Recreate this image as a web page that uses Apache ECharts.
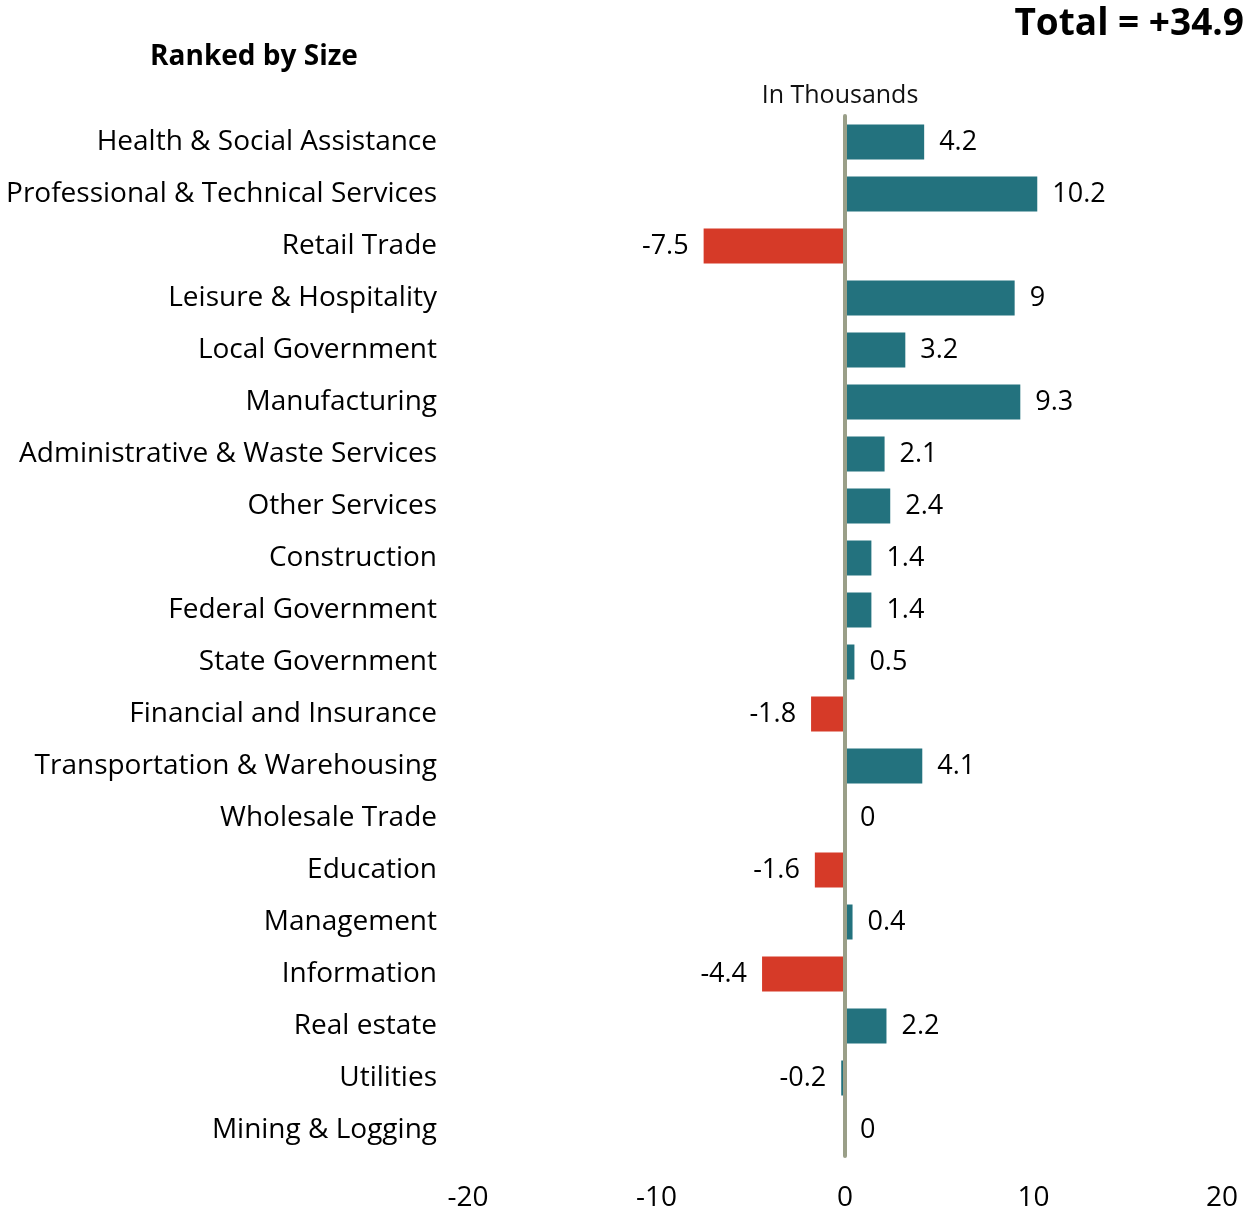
<!DOCTYPE html>
<html>
<head>
<meta charset="utf-8">
<script src="https://cdn.jsdelivr.net/npm/echarts@6/dist/echarts.min.js"></script>
<style>
    html, body { margin: 0; padding: 0; background: #fff; }
    #chart { width: 1257px; height: 1216px; }
</style>
</head>
<body>
<div id="chart"></div>
<script>
const categories = [
    'Health & Social Assistance',
    'Professional & Technical Services',
    'Retail Trade',
    'Leisure & Hospitality',
    'Local Government',
    'Manufacturing',
    'Administrative & Waste Services',
    'Other Services',
    'Construction',
    'Federal Government',
    'State Government',
    'Financial and Insurance',
    'Transportation & Warehousing',
    'Wholesale Trade',
    'Education',
    'Management',
    'Information',
    'Real estate',
    'Utilities',
    'Mining & Logging'
];
const changes = [4.2, 10.2, -7.5, 9, 3.2, 9.3, 2.1, 2.4, 1.4, 1.4, 0.5, -1.8, 4.1, 0, -1.6, 0.4, -4.4, 2.2, -0.2, 0];
// the -0.2 bar is drawn teal in the source picture
const barColors = ['teal', 'teal', 'red', 'teal', 'teal', 'teal', 'teal', 'teal', 'teal', 'teal',
    'teal', 'red', 'teal', 'teal', 'red', 'teal', 'red', 'teal', 'teal', 'teal'];
const totalText = 'Total = +34.9';

const TEAL = '#23727e';
const RED = '#d63a28';
const FONT = 'Open Sans';

const chart = echarts.init(document.getElementById('chart'));

const option = {
    backgroundColor: '#fff',
    animation: false,
    textStyle: { fontFamily: FONT },
    title: [
        {
            text: 'Ranked by Size',
            left: 249,
            top: 38,
            textAlign: 'center',
            textStyle: { fontSize: 28, fontWeight: 'bold', color: '#000', fontFamily: FONT }
        },
        {
            text: totalText,
            right: 8,
            top: 1,
            textStyle: { fontSize: 37, fontWeight: 'bold', color: '#000', fontFamily: FONT }
        },
        {
            text: 'In Thousands',
            left: 835,
            top: 78,
            textAlign: 'center',
            textStyle: { fontSize: 25, fontWeight: 'normal', color: '#111', fontFamily: FONT }
        }
    ],
    grid: {
        left: 468,
        right: 35,
        top: 116,
        bottom: 60,
        containLabel: false,
        outerBoundsMode: 'none'
    },
    xAxis: {
        type: 'value',
        min: -20,
        max: 20,
        interval: 10,
        axisLine: { show: false },
        axisTick: { show: false },
        splitLine: { show: false },
        axisLabel: { fontSize: 28, color: '#000', margin: 28 }
    },
    yAxis: {
        type: 'category',
        inverse: true,
        data: categories,
        z: 3,
        axisTick: { show: false },
        axisLine: { show: true, onZero: true, lineStyle: { color: '#9a9f88', width: 4 } },
        axisLabel: {
            fontSize: 28,
            color: '#000',
            margin: 31,
            padding: [4, 0, 0, 0]
        }
    },
    series: [
        {
            type: 'bar',
            barWidth: 35,
            data: changes.map((v, i) => ({
                value: v,
                itemStyle: { color: barColors[i] === 'red' ? RED : TEAL },
                label: { position: v < 0 ? 'left' : 'right' }
            })),
            label: {
                show: true,
                distance: 15,
                fontSize: 27,
                color: '#000',
                padding: [5, 0, 0, 0],
                formatter: p => String(p.value)
            }
        }
    ]
};

chart.setOption(option);
</script>
</body>
</html>
